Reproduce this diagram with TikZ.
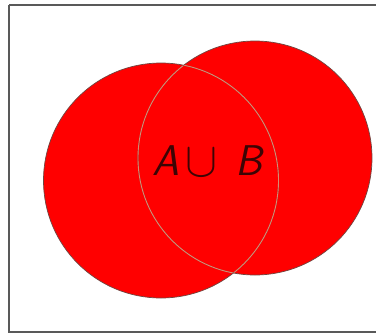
\documentclass[tikz,border=0pt]{standalone}
\usepackage{fontspec}
\definecolor{outerline}{RGB}{110,70,65}
\definecolor{innerline}{RGB}{215,140,115}
\definecolor{txt}{RGB}{60,5,5}
\begin{document}
\begin{tikzpicture}[x=1pt,y=-1pt,
  setfill/.style={fill=red,draw=none},
  setline/.style={draw=outerline,line width=0.7pt},
  innerarc/.style={draw=innerline,line width=0.9pt},
  lettr/.style={inner sep=0pt,anchor=base west,text=txt,font=\fontsize{43}{50}\selectfont\sffamily\itshape}]
\useasboundingbox (0,0) rectangle (376,333);
\fill[white] (0,0) rectangle (376,333);
\draw[gray!70!black,line width=1.5pt] (9,5) -- (380,5) (9,5) -- (9,332) -- (380,332);
\coordinate (ca) at (161,180.5);
\coordinate (cb) at (255,158);
\path[setfill] (ca) circle[radius=117.5];
\path[setfill] (cb) circle[radius=117];
\draw[setline] (ca) circle[radius=117.5];
\draw[setline] (cb) circle[radius=117];
\begin{scope}
\clip (ca) circle[radius=117];
\draw[innerarc] (cb) circle[radius=117];
\end{scope}
\begin{scope}
\clip (cb) circle[radius=116.5];
\draw[innerarc] (ca) circle[radius=117.5];
\end{scope}
\node[lettr] (la) at (152,175) {A};
\node[lettr,font=\normalsize] (lu) at (185,176) {\scalebox{4.8}[4.9]{$\cup$}};
\node[lettr] (lb) at (235,175) {B};
\end{tikzpicture}
\end{document}
